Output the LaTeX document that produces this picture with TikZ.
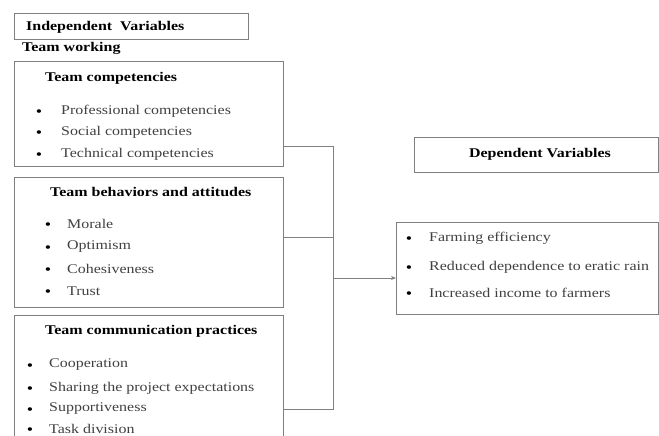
\documentclass[tikz,border=0pt]{standalone}
\usepackage{fontspec}
\setmainfont[FakeStretch=1.2]{Liberation Serif}
\usetikzlibrary{arrows.meta}
\tikzset{
  box/.style={draw=black!50, line width=0.9pt, inner sep=0pt, anchor=north west},
  txt/.style={inner sep=0pt, anchor=west, font=\fontsize{13.3}{16}\selectfont, text=black!75},
  ttl/.style={inner sep=0pt, anchor=west, font=\fontsize{13.3}{16}\selectfont\bfseries, text=black},
  bul/.style={inner sep=0pt, anchor=base, font=\fontsize{15}{17}\selectfont, text=black},
  conn/.style={draw=black!50, line width=0.8pt}
}
\begin{document}
\begin{tikzpicture}[x=1pt,y=-1pt]
\useasboundingbox (0,0) rectangle (659,436);
% independent header
\node[box, minimum width=234pt, minimum height=26pt] (ind) at (14,13) {};
\node[ttl] (indt) at (26,27) {Independent\ \ Variables};
\node[ttl] (tw) at (22,48) {Team working};
% box 1
\node[box, minimum width=269pt, minimum height=105pt] (tc) at (14,61) {};
\node[ttl] (tct) at (45,78) {Team competencies};
\node[txt] (t11) at (61,111) {Professional competencies};
\node[txt] (t12) at (61,132) {Social competencies};
\node[txt] (t13) at (61,154) {Technical competencies};
\node[bul] (b11) at (39,116) {•};
\node[bul] (b12) at (39,137) {•};
\node[bul] (b13) at (39,159) {•};
% box 2
\node[box, minimum width=269pt, minimum height=130pt] (tb) at (14,177) {};
\node[ttl] (tbt) at (50,192) {Team behaviors and attitudes};
\node[txt] (t21) at (67,224) {Morale};
\node[txt] (t22) at (67,247) {Optimism};
\node[txt] (t23) at (67,269) {Cohesiveness};
\node[txt] (t24) at (67,291) {Trust};
\node[bul] (b21) at (48,229) {•};
\node[bul] (b22) at (48,252) {•};
\node[bul] (b23) at (48,274) {•};
\node[bul] (b24) at (48,296) {•};
% box 3
\node[box, minimum width=269pt, minimum height=140pt] (tp) at (14,315) {};
\node[ttl] (tpt) at (45,331) {Team communication practices};
\node[txt] (t31) at (49,365) {Cooperation};
\node[txt] (t32) at (49,388) {Sharing the project expectations};
\node[txt] (t33) at (49,409) {Supportiveness};
\node[txt] (t34) at (49,429) {Task division};
\node[bul] (b31) at (30,370) {•};
\node[bul] (b32) at (30,393) {•};
\node[bul] (b33) at (30,414) {•};
\node[bul] (b34) at (30,434) {•};
% dependent
\node[box, minimum width=243.5pt, minimum height=35pt] (dep) at (414,137) {};
\node[ttl, anchor=center] (dept) at (540,154) {Dependent Variables};
\node[box, minimum width=261.5pt, minimum height=92pt] (out) at (396,222) {};
\node[txt] (t41) at (429,238) {Farming efficiency};
\node[txt] (t42) at (429,267) {Reduced dependence to eratic rain};
\node[txt] (t43) at (429,293) {Increased income to farmers};
\node[bul] (b41) at (409,243) {•};
\node[bul] (b42) at (409,272) {•};
\node[bul] (b43) at (409,298) {•};
% connectors
\coordinate (j1) at (333,146);
\coordinate (j2) at (333,237);
\coordinate (j3) at (333,409);
\coordinate (ja) at (333,278);
\draw[conn] (tc.east|-j1) -- (j1) -- (j3) -- (tp.east|-j3);
\draw[conn] (tb.east|-j2) -- (j2);
\draw[conn,-{Stealth[length=5pt,width=4pt]}] (ja) -- (out.west|-ja);
\end{tikzpicture}
\end{document}
